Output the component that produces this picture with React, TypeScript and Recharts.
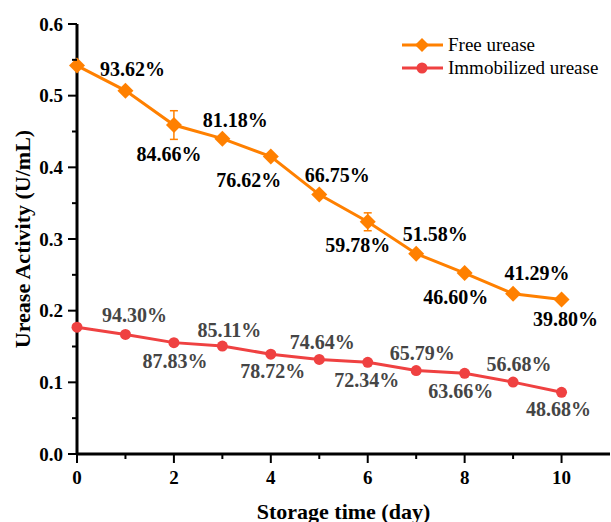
import React from 'react';
import { LineChart, Line, XAxis, YAxis, ErrorBar, Legend } from 'recharts';

const days = [0, 1, 2, 3, 4, 5, 6, 7, 8, 9, 10];
const freeUrease = [0.542, 0.507, 0.459, 0.44, 0.415, 0.362, 0.324, 0.2795, 0.2525, 0.2237, 0.2157];
const freeUreaseErr = [0, 0, 0.02, 0, 0, 0, 0.0125, 0, 0, 0, 0];
const freeLabels = ['', '93.62%', '84.66%', '81.18%', '76.62%', '66.75%', '59.78%', '51.58%', '46.60%', '41.29%', '39.80%'];
const immobilizedUrease = [0.1769, 0.1668, 0.1554, 0.1506, 0.1393, 0.132, 0.128, 0.1164, 0.1126, 0.1003, 0.0861];
const immobilizedLabels = ['', '94.30%', '87.83%', '85.11%', '78.72%', '74.64%', '72.34%', '65.79%', '63.66%', '56.68%', '48.68%'];
const xTicks = [0, 1, 2, 3, 4, 5, 6, 7, 8, 9, 10];
const yTicks = [0, 0.05, 0.1, 0.15, 0.2, 0.25, 0.3, 0.35, 0.4, 0.45, 0.5, 0.55, 0.6];

// label placement offsets (layout only)
const FREE_OFF: [number, number][] = [[0, 0], [7, -22], [-5, 29], [13, -19], [-22, 23], [18, -20], [-10, 23], [19, -20], [-9, 24], [24, -21], [4, 20]];
const IMM_OFF: [number, number][] = [[0, 0], [9, -19], [1, 18], [7, -16], [2, 17], [3, -17], [-1, 18], [6, -18], [-4, 18], [6, -18], [-3, 17]];

const ORANGE = '#FF8000';
const RED = '#EF4141';
const FONT = '"Liberation Serif", "Times New Roman", serif';

const data = days.map((d, i) => ({
  day: d,
  free: freeUrease[i],
  freeErr: freeUreaseErr[i],
  imm: immobilizedUrease[i],
}));

const Diamond = ({ cx, cy, fill, size = 8 }: any) => (
  <polygon points={`${cx},${cy - size} ${cx + size},${cy} ${cx},${cy + size} ${cx - size},${cy}`} fill={fill} />
);

const YTick = (props: any) => {
  const { x, y, payload } = props;
  const v = payload.value;
  const major = Math.round(v * 100) % 10 === 0;
  return (
    <g>
      <line x1={x} x2={x - (major ? 9 : 5)} y1={y} y2={y} stroke="#000" strokeWidth={2} />
      {major && (
        <text x={x - 14} y={y + 6.5} textAnchor="end" fontFamily={FONT} fontWeight="bold" fontSize={19} fill="#000">
          {v.toFixed(1)}
        </text>
      )}
    </g>
  );
};

const XTick = (props: any) => {
  const { x, y, payload } = props;
  const v = payload.value;
  const major = v % 2 === 0;
  return (
    <g>
      <line x1={x} x2={x} y1={y} y2={y + (major ? 9 : 5)} stroke="#000" strokeWidth={2} />
      {major && (
        <text x={x} y={y + 30} textAnchor="middle" fontFamily={FONT} fontWeight="bold" fontSize={19} fill="#000">
          {v}
        </text>
      )}
    </g>
  );
};

const makeLabel = (labels: string[], offs: [number, number][], color: string) => (props: any) => {
  const { x, y, index } = props;
  const t = labels[index];
  if (!t) return null;
  const [dx, dy] = offs[index];
  return (
    <text key={`l${index}`} x={x + dx} y={y + dy + 7} textAnchor="middle" fontFamily={FONT} fontWeight="bold" fontSize={20} fill={color}>
      {t}
    </text>
  );
};

const LegendContent = () => (
  <svg width={220} height={50} style={{ overflow: 'visible' }}>
    <g>
      <line x1={0} x2={41} y1={10} y2={10} stroke={ORANGE} strokeWidth={3} />
      <Diamond cx={20} cy={10} fill={ORANGE} size={7} />
      <text x={46} y={16} fontFamily={FONT} fontSize={19} fill="#000">Free urease</text>
    </g>
    <g>
      <line x1={0} x2={41} y1={33} y2={33} stroke={RED} strokeWidth={3} />
      <circle cx={20} cy={33} r={5.5} fill={RED} />
      <text x={46} y={39} fontFamily={FONT} fontSize={19} fill="#000">Immobilized urease</text>
    </g>
  </svg>
);

export default function App() {
  return (
    <div style={{ position: 'absolute', left: 0, top: 0, background: '#fff' }}>
      <LineChart width={611} height={522} data={data} margin={{ top: 24, right: 1, bottom: 0, left: 0 }}>
        <XAxis
          dataKey="day"
          type="number"
          domain={[0, 11]}
          ticks={xTicks}
          interval={0}
          height={68}
          tickSize={0}
          tickMargin={0}
          tickLine={false}
          axisLine={{ stroke: '#000', strokeWidth: 3 }}
          tick={<XTick />}
          label={{
            content: (p: any) => {
              const vb = p.viewBox;
              return (
                <text x={vb.x + vb.width / 2} y={vb.y + 65} textAnchor="middle" fontFamily={FONT} fontWeight="bold" fontSize={22} fill="#000">
                  Storage time (day)
                </text>
              );
            },
          }}
        />
        <YAxis
          type="number"
          domain={[0, 0.6]}
          ticks={yTicks}
          interval={0}
          width={77}
          tickSize={0}
          tickMargin={0}
          tickLine={false}
          axisLine={{ stroke: '#000', strokeWidth: 3 }}
          tick={<YTick />}
          label={{
            content: (p: any) => {
              const vb = p.viewBox;
              const cx = vb.x + 22;
              const cy = vb.y + vb.height / 2;
              return (
                <text x={cx} y={cy} transform={`rotate(-90 ${cx} ${cy})`} textAnchor="middle" dominantBaseline="central" fontFamily={FONT} fontWeight="bold" fontSize={22} fill="#000">
                  Urease Activity (U/mL)
                </text>
              );
            },
          }}
        />
        <Legend
          layout="horizontal"
          verticalAlign="middle"
          align="center"
          wrapperStyle={{ position: 'absolute', left: 402, top: 35, width: 220, height: 50 }}
          content={<LegendContent />}
        />
        <Line
          dataKey="imm"
          stroke={RED}
          strokeWidth={3}
          isAnimationActive={false}
          dot={(p: any) => <circle key={`i${p.index}`} cx={p.cx} cy={p.cy} r={5.5} fill={RED} />}
          activeDot={false}
          label={makeLabel(immobilizedLabels, IMM_OFF, '#454545')}
        />
        <Line
          dataKey="free"
          stroke={ORANGE}
          strokeWidth={3}
          isAnimationActive={false}
          dot={(p: any) => <Diamond key={`f${p.index}`} cx={p.cx} cy={p.cy} fill={ORANGE} size={8} />}
          activeDot={false}
          label={makeLabel(freeLabels, FREE_OFF, '#000')}
        >
          <ErrorBar dataKey="freeErr" direction="y" width={4} stroke={ORANGE} strokeWidth={1.5} />
        </Line>
      </LineChart>
    </div>
  );
}
